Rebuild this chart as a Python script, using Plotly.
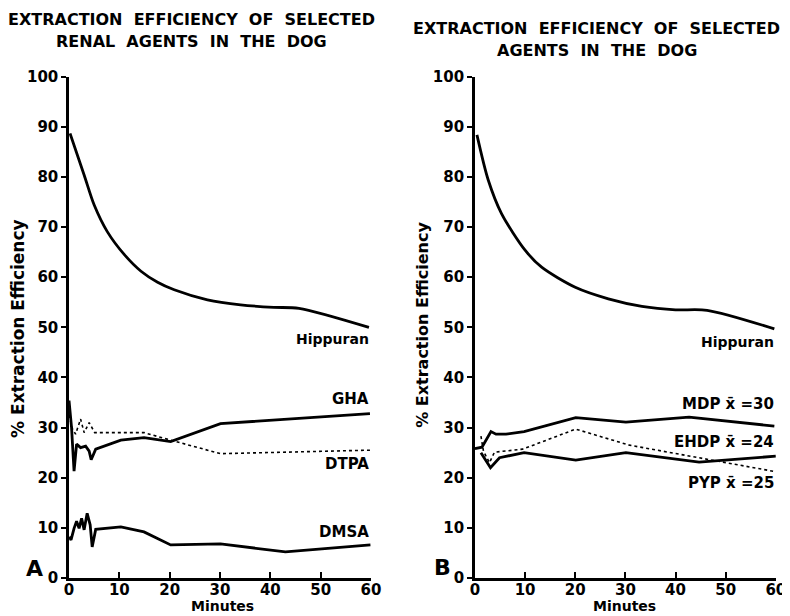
import plotly.graph_objects as go

# ---- Data ----
# Panel A
hip_a_x = [0.2, 3.0, 5.0, 7.6, 11.0, 14.3, 17.6, 20.9, 27.5, 34.1, 40.7, 45.7, 59.6]
hip_a_y = [88.7, 80.4, 74.4, 69.1, 64.5, 61.2, 59.0, 57.5, 55.5, 54.5, 54.0, 53.8, 50.0]

gha_x = [0.0, 0.5, 1.0, 1.5, 2.3, 3.3, 4.0, 4.4, 5.3, 10.3, 14.9, 20.2, 30.1, 42.7, 59.8]
gha_y = [35.4, 30.0, 21.3, 26.7, 26.0, 26.3, 25.3, 23.6, 25.7, 27.5, 28.0, 27.2, 30.8, 31.7, 32.8]

dtpa_x = [0.0, 0.7, 1.3, 2.3, 3.0, 4.0, 5.1, 14.9, 20.2, 30.1, 59.9]
dtpa_y = [32.5, 29.7, 28.7, 31.7, 29.0, 31.0, 29.0, 29.0, 27.5, 24.8, 25.5]

dmsa_x = [0.0, 0.4, 1.0, 1.5, 2.0, 2.5, 3.0, 3.6, 4.2, 4.6, 5.3, 10.3, 14.9, 20.2, 30.1, 43.0, 59.9]
dmsa_y = [8.2, 7.6, 9.9, 11.3, 9.9, 11.9, 9.6, 12.9, 10.6, 6.2, 9.7, 10.2, 9.2, 6.6, 6.8, 5.2, 6.6]

# Panel B
hip_b_x = [0.4, 2.65, 5.3, 10.0, 13.3, 20.0, 26.6, 33.3, 40.0, 46.3, 59.7]
hip_b_y = [88.4, 79.4, 72.7, 65.4, 62.0, 58.0, 55.7, 54.2, 53.5, 53.4, 49.7]

mdp_x = [0.0, 1.4, 3.2, 4.2, 6.2, 9.8, 20.1, 30.1, 42.7, 59.7]
mdp_y = [25.8, 26.1, 29.2, 28.7, 28.7, 29.2, 32.0, 31.1, 32.1, 30.3]

pyp_x = [1.2, 2.1, 3.1, 4.9, 9.8, 20.1, 30.1, 44.7, 60.0]
pyp_y = [25.0, 23.7, 22.0, 24.0, 25.0, 23.5, 25.0, 23.1, 24.3]

ehdp_x = [1.2, 1.7, 2.9, 3.9, 9.5, 20.1, 30.8, 44.0, 60.0]
ehdp_y = [28.3, 25.3, 23.0, 25.1, 25.7, 29.7, 26.5, 24.1, 21.2]

x_ticks = [0, 10, 20, 30, 40, 50, 60]
y_ticks = [0, 10, 20, 30, 40, 50, 60, 70, 80, 90, 100]

# ---- Figure ----
OFF = 8            # browser body margin
W, H = 800, 630
FONT = "DejaVu Sans"
fig = go.Figure()

def add_line(x, y, xa, ya, dotted=False, smooth=False):
    fig.add_trace(go.Scatter(
        x=x, y=y, mode="lines", xaxis=xa, yaxis=ya, showlegend=False,
        line=dict(color="black", width=1.6 if dotted else 2.8,
                  dash="dot" if dotted else "solid",
                  shape="spline" if smooth else "linear",
                  smoothing=0.8 if smooth else None),
        hoverinfo="skip"))

add_line(hip_a_x, hip_a_y, "x", "y", smooth=True)
add_line(gha_x, gha_y, "x", "y")
add_line(dtpa_x, dtpa_y, "x", "y", dotted=True)
add_line(dmsa_x, dmsa_y, "x", "y")

add_line(hip_b_x, hip_b_y, "x2", "y2", smooth=True)
add_line(mdp_x, mdp_y, "x2", "y2")
add_line(pyp_x, pyp_y, "x2", "y2")
add_line(ehdp_x, ehdp_y, "x2", "y2", dotted=True)

# target picture pixel -> paper fraction (empirical mapping of the capture)
def px_x(t):
    page = (t - 4.1) / 0.9815
    return (page - OFF) / W

def px_y(t):
    page = (t - 8.5) / 0.971
    return 1 - (page - OFF) / H

tickfont = dict(family=FONT, size=15, color="black", weight="bold")
xcommon = dict(range=[0, 60], tickvals=x_ticks, showgrid=False, zeroline=False,
               showline=True, linecolor="black", linewidth=2.5,
               ticks="inside", ticklen=6, tickwidth=2, tickcolor="black",
               ticklabelstandoff=-4,
               tickfont=tickfont, fixedrange=True)
ycommon = dict(range=[0, 100], tickvals=y_ticks, showgrid=False, zeroline=False,
               showline=True, linecolor="black", linewidth=2.5,
               ticks="outside", ticklen=5, tickwidth=2, tickcolor="black",
               tickfont=tickfont, fixedrange=True)

ydom = [px_y(577), px_y(76)]
fig.update_layout(
    width=W, height=H, autosize=False,
    margin=dict(l=0, r=0, t=0, b=0),
    paper_bgcolor="white", plot_bgcolor="white",
    xaxis=dict(domain=[px_x(68), px_x(370)], anchor="y", **xcommon),
    yaxis=dict(domain=ydom, anchor="x", **ycommon),
    xaxis2=dict(domain=[px_x(474), px_x(775)], anchor="y2", **xcommon),
    yaxis2=dict(domain=ydom, anchor="x2", **ycommon),
)

def text(x, y, s, size=13, xanchor="center", angle=0, xr=None, yr=None):
    fig.add_annotation(
        x=x, y=y, text=s, showarrow=False,
        xref=xr or "paper", yref=yr or "paper",
        xanchor=xanchor, yanchor="middle", textangle=angle,
        font=dict(family=FONT, size=size, color="black", weight="bold"))

# Titles
text(px_x(190), px_y(19), "EXTRACTION  EFFICIENCY  OF  SELECTED", size=16)
text(px_x(190), px_y(41), "RENAL  AGENTS  IN  THE  DOG", size=16)
text(px_x(596), px_y(28), "EXTRACTION  EFFICIENCY  OF  SELECTED", size=16)
text(px_x(596), px_y(50), "AGENTS  IN  THE  DOG", size=16)

# Axis titles
text(px_x(17), px_y(328), "% Extraction Efficiency", size=17, angle=-90)
text(px_x(422), px_y(324), "% Extraction Efficiency", size=16, angle=-90)
text(px_x(222), px_y(605), "Minutes", size=14)
text(px_x(624), px_y(605), "Minutes", size=14)

# Panel letters
text(px_x(33), px_y(568), "A", size=22)
text(px_x(442), px_y(567), "B", size=22)

# Series labels
text(60, 47.6, "Hippuran", size=14, xanchor="right", xr="x", yr="y")
text(60, 35.7, "GHA", size=15, xanchor="right", xr="x", yr="y")
text(60, 22.7, "DTPA", size=15, xanchor="right", xr="x", yr="y")
text(60, 9.2, "DMSA", size=15, xanchor="right", xr="x", yr="y")

text(60, 47.0, "Hippuran", size=14, xanchor="right", xr="x2", yr="y2")
text(60, 34.8, "MDP x\u0304 =30", size=15, xanchor="right", xr="x2", yr="y2")
text(60, 27.2, "EHDP x\u0304 =24", size=15, xanchor="right", xr="x2", yr="y2")
text(60, 19.0, "PYP x\u0304 =25", size=15, xanchor="right", xr="x2", yr="y2")

fig.write_html("out.html", config={"displayModeBar": False, "responsive": False})
